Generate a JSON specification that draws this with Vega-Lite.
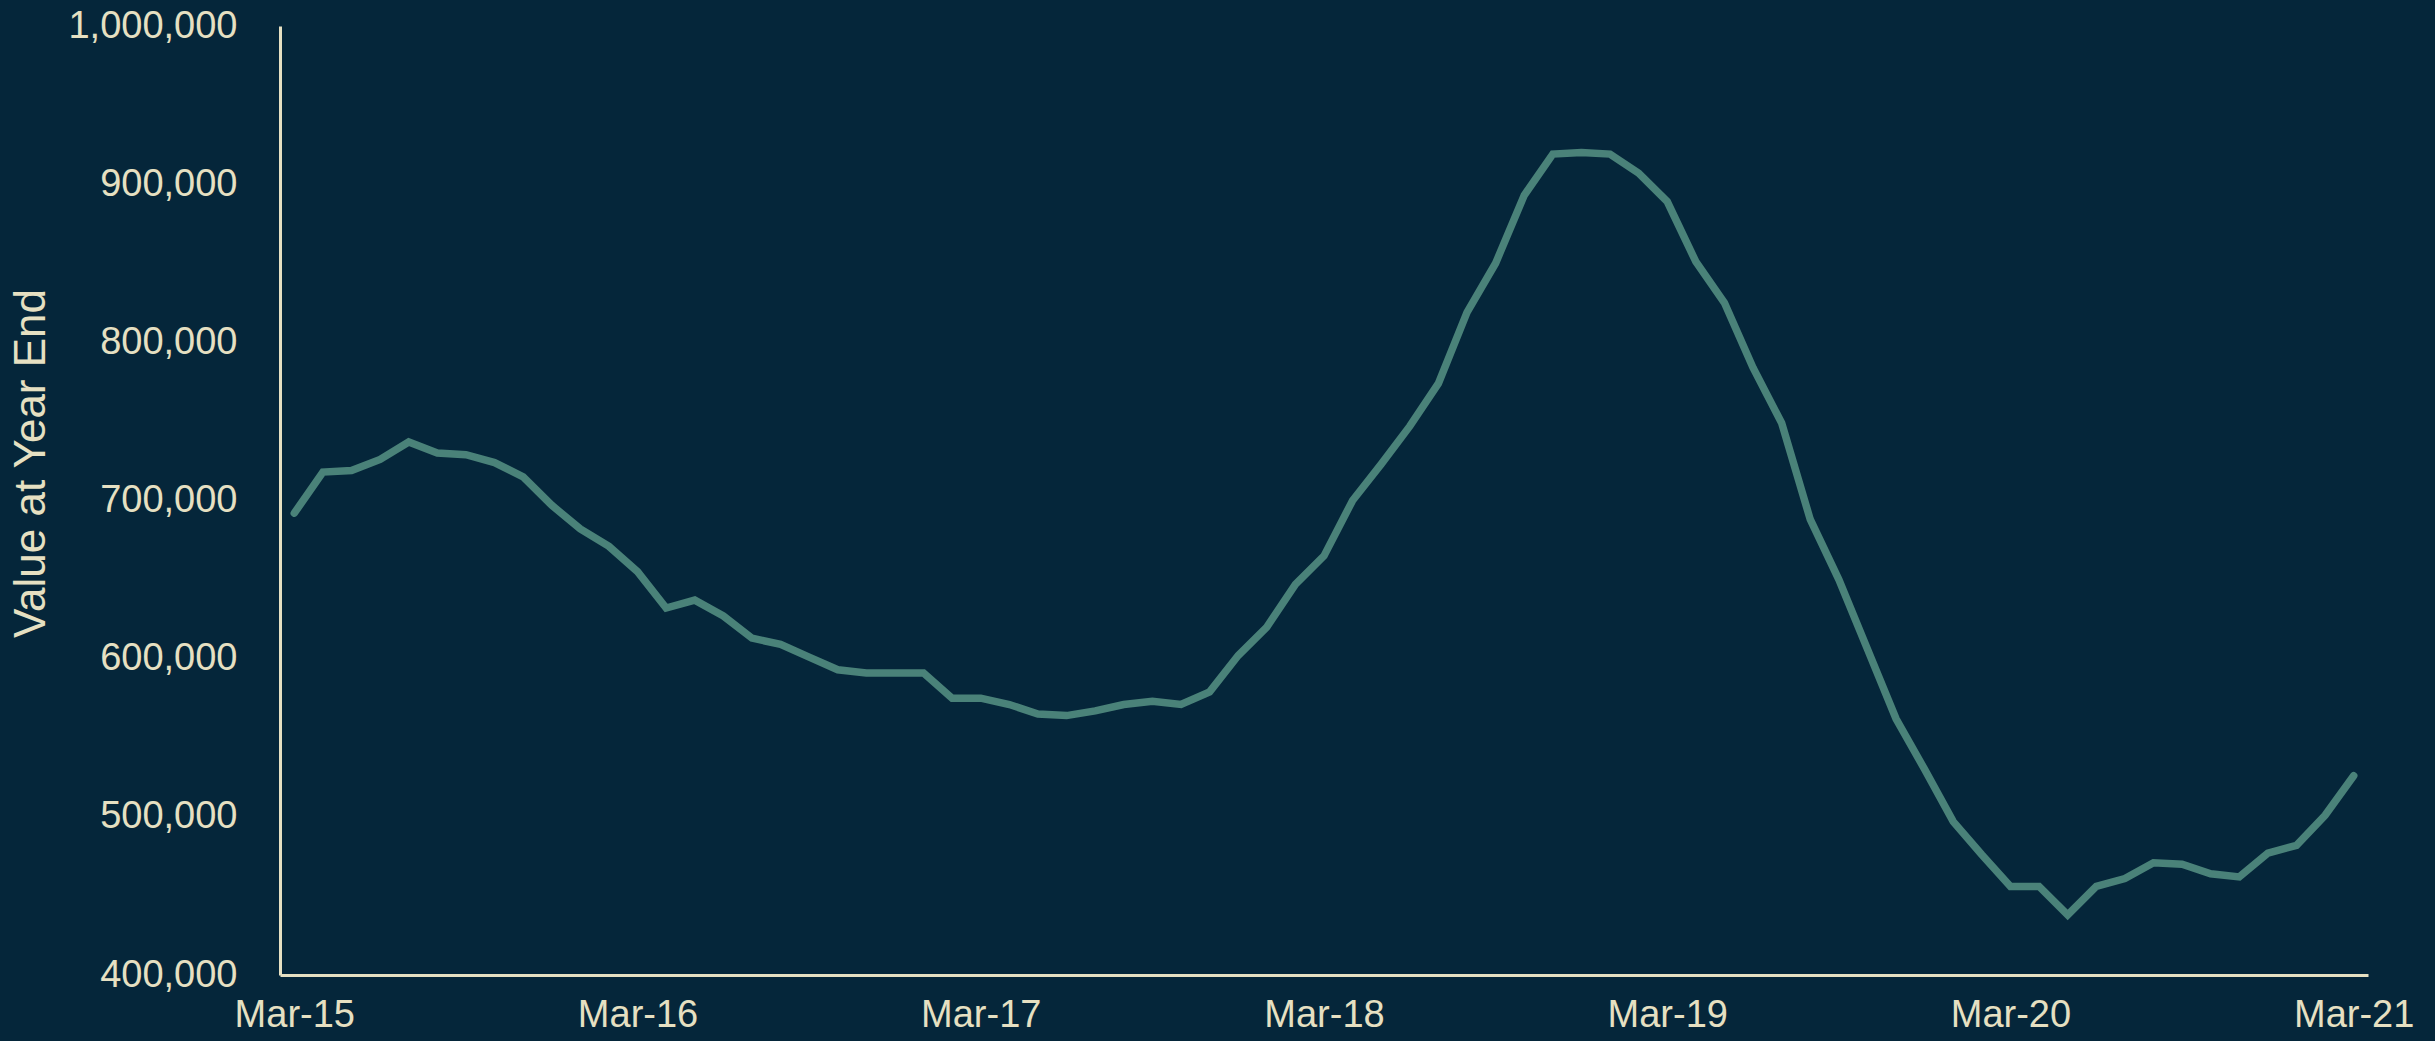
{
  "$schema": "https://vega.github.io/schema/vega-lite/v6.json",
  "width": 2088,
  "height": 949,
  "autosize": {"type": "none"},
  "padding": {"left": 280, "top": 26, "right": 67, "bottom": 66},
  "background": "#05263a",
  "config": {
    "view": {"stroke": null},
    "font": "Liberation Sans"
  },
  "data": {
    "values": [
      {"month": "Mar-15", "value": 692000},
      {"month": "Apr-15", "value": 718000},
      {"month": "May-15", "value": 719000},
      {"month": "Jun-15", "value": 726000},
      {"month": "Jul-15", "value": 737000},
      {"month": "Aug-15", "value": 730000},
      {"month": "Sep-15", "value": 729000},
      {"month": "Oct-15", "value": 724000},
      {"month": "Nov-15", "value": 715000},
      {"month": "Dec-15", "value": 697000},
      {"month": "Jan-16", "value": 682000},
      {"month": "Feb-16", "value": 671000},
      {"month": "Mar-16", "value": 655000},
      {"month": "Apr-16", "value": 632000},
      {"month": "May-16", "value": 637000},
      {"month": "Jun-16", "value": 627000},
      {"month": "Jul-16", "value": 613000},
      {"month": "Aug-16", "value": 609000},
      {"month": "Sep-16", "value": 601000},
      {"month": "Oct-16", "value": 593000},
      {"month": "Nov-16", "value": 591000},
      {"month": "Dec-16", "value": 591000},
      {"month": "Jan-17", "value": 591000},
      {"month": "Feb-17", "value": 575000},
      {"month": "Mar-17", "value": 575000},
      {"month": "Apr-17", "value": 571000},
      {"month": "May-17", "value": 565000},
      {"month": "Jun-17", "value": 564000},
      {"month": "Jul-17", "value": 567000},
      {"month": "Aug-17", "value": 571000},
      {"month": "Sep-17", "value": 573000},
      {"month": "Oct-17", "value": 571000},
      {"month": "Nov-17", "value": 579000},
      {"month": "Dec-17", "value": 602000},
      {"month": "Jan-18", "value": 620000},
      {"month": "Feb-18", "value": 647000},
      {"month": "Mar-18", "value": 665000},
      {"month": "Apr-18", "value": 700000},
      {"month": "May-18", "value": 723000},
      {"month": "Jun-18", "value": 747000},
      {"month": "Jul-18", "value": 774000},
      {"month": "Aug-18", "value": 819000},
      {"month": "Sep-18", "value": 850000},
      {"month": "Oct-18", "value": 893000},
      {"month": "Nov-18", "value": 919000},
      {"month": "Dec-18", "value": 920000},
      {"month": "Jan-19", "value": 919000},
      {"month": "Feb-19", "value": 907000},
      {"month": "Mar-19", "value": 889000},
      {"month": "Apr-19", "value": 851000},
      {"month": "May-19", "value": 825000},
      {"month": "Jun-19", "value": 784000},
      {"month": "Jul-19", "value": 749000},
      {"month": "Aug-19", "value": 688000},
      {"month": "Sep-19", "value": 650000},
      {"month": "Oct-19", "value": 606000},
      {"month": "Nov-19", "value": 562000},
      {"month": "Dec-19", "value": 530000},
      {"month": "Jan-20", "value": 497000},
      {"month": "Feb-20", "value": 476000},
      {"month": "Mar-20", "value": 456000},
      {"month": "Apr-20", "value": 456000},
      {"month": "May-20", "value": 438000},
      {"month": "Jun-20", "value": 456000},
      {"month": "Jul-20", "value": 461000},
      {"month": "Aug-20", "value": 471000},
      {"month": "Sep-20", "value": 470000},
      {"month": "Oct-20", "value": 464000},
      {"month": "Nov-20", "value": 462000},
      {"month": "Dec-20", "value": 477000},
      {"month": "Jan-21", "value": 482000},
      {"month": "Feb-21", "value": 501000},
      {"month": "Mar-21", "value": 526000}
    ]
  },
  "mark": {"type": "line", "color": "#4a8279", "strokeWidth": 7.5, "strokeCap": "round", "strokeJoin": "miter"},
  "encoding": {
    "x": {
      "field": "month",
      "type": "ordinal",
      "sort": null,
      "scale": {"type": "point", "padding": 0.5},
      "axis": {
        "title": null,
        "values": ["Mar-15", "Mar-16", "Mar-17", "Mar-18", "Mar-19", "Mar-20", "Mar-21"],
        "labelAngle": 0,
        "labelFontSize": 38,
        "labelColor": "#e6e0c2",
        "labelPadding": 21,
        "ticks": false,
        "grid": false,
        "domainColor": "#e6e0c2",
        "domainWidth": 3
      }
    },
    "y": {
      "field": "value",
      "type": "quantitative",
      "scale": {"domain": [400000, 1000000], "nice": false, "zero": false},
      "axis": {
        "title": "Value at Year End",
        "titleFontSize": 44,
        "titleFontWeight": "normal",
        "titleColor": "#e6e0c2",
        "titleX": -249,
        "titleY": 437,
        "titleAlign": "center",
        "titleBaseline": "middle",
        "titleAngle": -90,
        "values": [400000, 500000, 600000, 700000, 800000, 900000, 1000000],
        "format": ",d",
        "labelFontSize": 38,
        "labelColor": "#e6e0c2",
        "labelPadding": 43,
        "ticks": false,
        "grid": false,
        "domainColor": "#e6e0c2",
        "domainWidth": 3
      }
    }
  }
}
